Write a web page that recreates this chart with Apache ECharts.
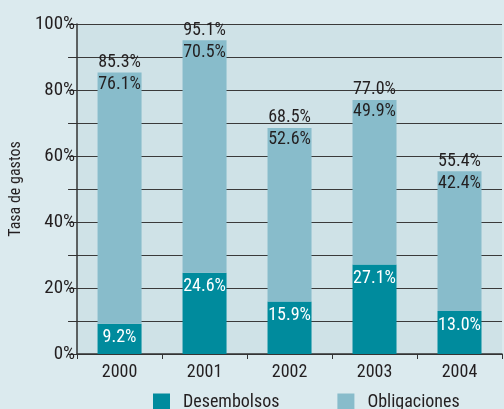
<!DOCTYPE html>
<html>
<head>
<meta charset="utf-8">
<script src="https://cdn.jsdelivr.net/npm/echarts@6/dist/echarts.min.js"></script>
<style>
  html, body { margin: 0; padding: 0; background: #dbeaee; }
  #chart { width: 504px; height: 409px; }
</style>
</head>
<body>
<div id="chart"></div>
<script>
const years = ['2000', '2001', '2002', '2003', '2004']
const desembolsos = [9.2, 24.6, 15.9, 27.1, 13.0]
const obligaciones = [76.1, 70.5, 52.6, 49.9, 42.4]
const totales = [85.3, 95.1, 68.5, 77.0, 55.4]

const font = '"Roboto Condensed", "DejaVu Sans Condensed", sans-serif'
const ink = '#231f20'
const pct = v => v.toFixed(1) + '%'

const chart = echarts.init(document.getElementById('chart'))
chart.setOption({
  backgroundColor: '#dbeaee',
  textStyle: { fontFamily: font },
  grid: { left: 74, right: 2, top: 24, bottom: 55, show: true, backgroundColor: '#cfe2e7', borderWidth: 0 },
  legend: {
    data: ['Desembolsos', 'Obligaciones'],
    left: 148, top: 388, itemWidth: 17, itemHeight: 17, itemGap: 58,
    icon: 'rect',
    textStyle: { fontFamily: font, fontSize: 18, color: ink, padding: [0, 0, 0, 8] }
  },
  xAxis: {
    type: 'category', data: years,
    axisLine: { lineStyle: { color: '#333', width: 1.5 } },
    axisTick: { show: true, length: 5, lineStyle: { color: '#333' } },
    axisLabel: { fontFamily: font, fontSize: 18, color: ink, margin: 9 }
  },
  yAxis: {
    type: 'value', min: 0, max: 100, interval: 10,
    name: 'Tasa de gastos', nameLocation: 'middle', nameGap: 52,
    nameTextStyle: { fontFamily: font, fontSize: 16, color: ink },
    axisLine: { show: true, lineStyle: { color: '#333', width: 1.5 } },
    axisTick: { show: true, length: 9, lineStyle: { color: '#333' } },
    axisLabel: {
      fontFamily: font, fontSize: 19, color: ink, margin: 2,
      formatter: v => (v % 20 === 0 ? v + '%' : '')
    },
    splitLine: { lineStyle: { color: '#3a3a3a', width: 1 } }
  },
  series: [
    {
      name: 'Desembolsos', type: 'bar', stack: 'g', barWidth: 44,
      data: desembolsos,
      itemStyle: { color: '#008b9d' },
      label: { show: true, position: 'insideTop', distance: 5, color: '#fff', fontFamily: font, fontSize: 18, formatter: p => pct(p.value) }
    },
    {
      name: 'Obligaciones', type: 'bar', stack: 'g', barWidth: 44,
      data: obligaciones,
      itemStyle: { color: '#88bccb' },
      label: { show: true, position: 'insideTop', distance: 3, color: ink, fontFamily: font, fontSize: 18, formatter: p => pct(p.value) }
    },
    {
      name: 'Total', type: 'bar', barWidth: 44, barGap: '-100%', z: 1,
      data: totales,
      itemStyle: { color: 'rgba(0,0,0,0)' },
      label: { show: true, position: 'top', distance: 1, color: ink, fontFamily: font, fontSize: 18, formatter: p => pct(p.value) },
      tooltip: { show: false }
    }
  ]
})
</script>
</body>
</html>
